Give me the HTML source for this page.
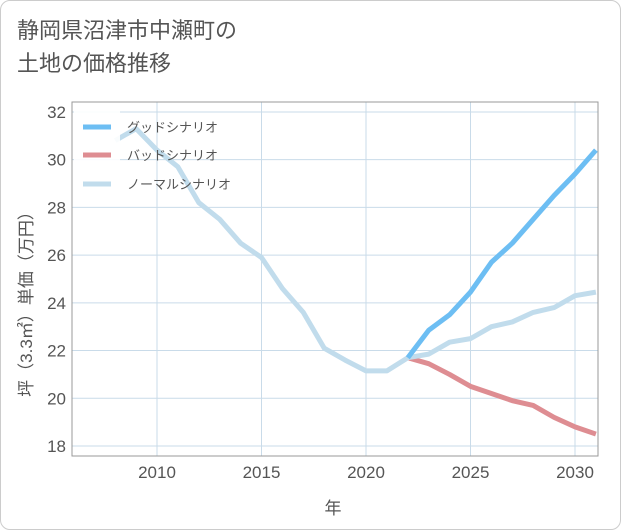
<!DOCTYPE html>
<html><head><meta charset="utf-8"><style>
body{margin:0;background:#fff;}
#card{position:absolute;left:0;top:0;width:619px;height:528px;border:1px solid #ccc;border-radius:10px;background:#fff;}
#title{position:absolute;left:17px;top:14px;font:22px "Liberation Sans","Noto Sans CJK JP",sans-serif;color:#555;line-height:33px;}
text{font-family:"Liberation Sans","Noto Sans CJK JP",sans-serif;}
</style></head><body>
<div id="card"></div>
<div id="title">静岡県沼津市中瀬町の<br>土地の価格推移</div>
<svg id="chart" width="621" height="530" style="position:absolute;left:0;top:0"></svg>
<script>
const years=[2008,2009,2010,2011,2012,2013,2014,2015,2016,2017,2018,2019,2020,2021,2022,2023,2024,2025,2026,2027,2028,2029,2030,2031];
const normal=[30.8,31.3,30.4,29.7,28.2,27.5,26.5,25.9,24.6,23.6,22.1,21.6,21.15,21.15,21.7,21.85,22.35,22.5,23.0,23.2,23.6,23.8,24.3,24.45];
const goodYears=[2022,2023,2024,2025,2026,2027,2028,2029,2030,2031];
const good=[21.7,22.85,23.5,24.45,25.7,26.5,27.5,28.5,29.4,30.4];
const bad=[21.7,21.45,21.0,20.5,20.2,19.9,19.7,19.2,18.8,18.5];
const xTicks=[2010,2015,2020,2025,2030];
const yTicks=[18,20,22,24,26,28,30,32];
const L=72,R=598,T=102,B=456;
const x=v=>157+(v-2010)*20.9;
const y=v=>446-(v-18)*23.86;
const svg=document.getElementById('chart');const NS='http://www.w3.org/2000/svg';
function mk(t,a,p){const e=document.createElementNS(NS,t);for(const k in a)e.setAttribute(k,a[k]);(p||svg).appendChild(e);return e;}
yTicks.forEach(v=>{const l=mk('line',{x1:L,x2:R,y1:y(v),y2:y(v),stroke:'#c9dbe9','stroke-width':1});


const t=mk('text',{x:66,y:y(v)+6,'text-anchor':'end','font-size':17,fill:'#555'});t.textContent=v;

});
xTicks.forEach(v=>{const l=mk('line',{x1:x(v),x2:x(v),y1:T,y2:B,stroke:'#c9dbe9','stroke-width':1});


const t=mk('text',{x:x(v),y:478,'text-anchor':'middle','font-size':17,fill:'#555'});t.textContent=v;

});
const fr=mk('rect',{x:L,y:T,width:R-L,height:B-T,fill:'none',stroke:'#999','stroke-width':1});


function line(xs,ys,c,name){const p=mk('polyline',{points:xs.map((v,i)=>x(v)+','+y(ys[i])).join(' '),fill:'none',stroke:c,'stroke-width':5,'stroke-linejoin':'round'});

}
line(goodYears,bad,'#de8d92','bad-scenario-line');
line(years,normal,'#c1dcec','normal-scenario-line');
line(goodYears,good,'#6dbef3','good-scenario-line');
const lg=mk('rect',{x:74,y:110,width:46,height:92,fill:'#fff','fill-opacity':0.9});


[['グッドシナリオ','#6dbef3',127],['バッドシナリオ','#de8d92',155],['ノーマルシナリオ','#c1dcec',184]].forEach(([n,c,yy])=>{
const l=mk('line',{x1:83,x2:111,y1:yy,y2:yy,stroke:c,'stroke-width':5});


const t=mk('text',{x:127,y:yy+5,'font-size':13,fill:'#555'});t.textContent=n;

});
const xt=mk('text',{x:333,y:514,'text-anchor':'middle','font-size':17,fill:'#555'});xt.textContent='年';


const yt=mk('text',{x:0,y:0,'text-anchor':'middle','font-size':17,fill:'#555',transform:'translate(32,300) rotate(-90)'});yt.textContent='坪（3.3㎡）単価（万円）';


</script>
</body></html>
